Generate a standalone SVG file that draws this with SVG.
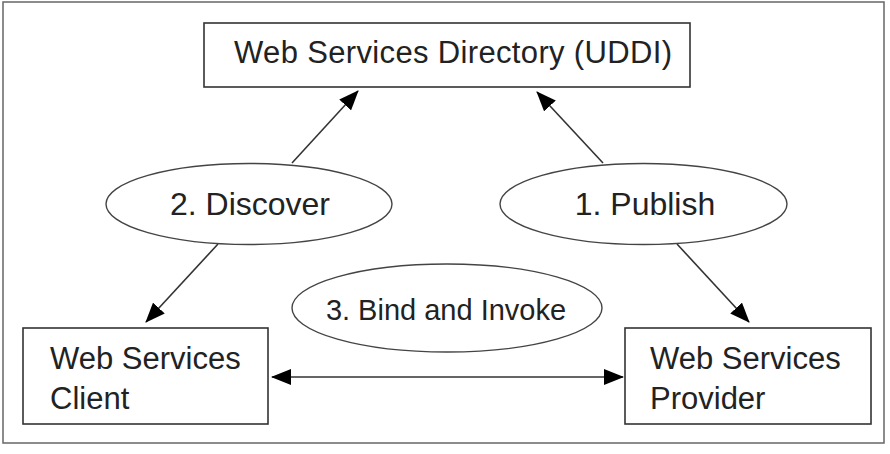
<svg xmlns="http://www.w3.org/2000/svg" width="890" height="454" viewBox="0 0 890 454">
  <defs>
    <style>
      .box { fill: #fff; stroke: #333; stroke-width: 1.6; }
      .ell { fill: #fff; stroke: #444; stroke-width: 1.4; }
      .lbl { font-family: "Liberation Sans", Arial, sans-serif; fill: #222; }
      .conn { stroke: #333; stroke-width: 1.6; fill: none; }
    </style>
    <marker id="ah" markerUnits="userSpaceOnUse" markerWidth="20" markerHeight="16" refX="19" refY="8" orient="auto-start-reverse" viewBox="0 0 20 16">
      <path d="M0,0 L20,8 L0,16 z" fill="#000"/>
    </marker>
  </defs>
  <rect x="0" y="0" width="890" height="454" fill="#fff"/>
  <rect x="3" y="2" width="881" height="441" fill="none" stroke="#666" stroke-width="1.5"/>

  <g id="connectors">
    <line class="conn" x1="292" y1="163" x2="358" y2="91" marker-end="url(#ah)"/>
    <line class="conn" x1="603" y1="163" x2="537" y2="92" marker-end="url(#ah)"/>
    <line class="conn" x1="218" y1="244" x2="146" y2="322" marker-end="url(#ah)"/>
    <line class="conn" x1="677" y1="244" x2="749" y2="322" marker-end="url(#ah)"/>
    <line class="conn" x1="272" y1="377" x2="623" y2="377" marker-start="url(#ah)" marker-end="url(#ah)"/>
  </g>

  <g id="directory">
    <rect class="box" x="204" y="23" width="486" height="64"/>
    <text class="lbl" x="234" y="63" font-size="31" textLength="438" lengthAdjust="spacing">Web Services Directory (UDDI)</text>
  </g>

  <g id="discover">
    <ellipse class="ell" cx="249" cy="204" rx="143" ry="40.5"/>
    <text class="lbl" x="250" y="215" font-size="32" text-anchor="middle">2. Discover</text>
  </g>

  <g id="publish">
    <ellipse class="ell" cx="643.5" cy="204" rx="143.5" ry="40.5"/>
    <text class="lbl" x="645" y="215" font-size="32" text-anchor="middle">1. Publish</text>
  </g>

  <g id="bind">
    <ellipse class="ell" cx="447" cy="308" rx="155" ry="44"/>
    <text class="lbl" x="446" y="320" font-size="29" text-anchor="middle">3. Bind and Invoke</text>
  </g>

  <g id="client">
    <rect class="box" x="23" y="328" width="245" height="96"/>
    <text class="lbl" x="50" y="369" font-size="31">Web Services</text>
    <text class="lbl" x="50" y="409" font-size="31">Client</text>
  </g>

  <g id="provider">
    <rect class="box" x="625" y="328" width="246" height="96"/>
    <text class="lbl" x="650" y="369" font-size="31">Web Services</text>
    <text class="lbl" x="650" y="409" font-size="31">Provider</text>
  </g>
</svg>
